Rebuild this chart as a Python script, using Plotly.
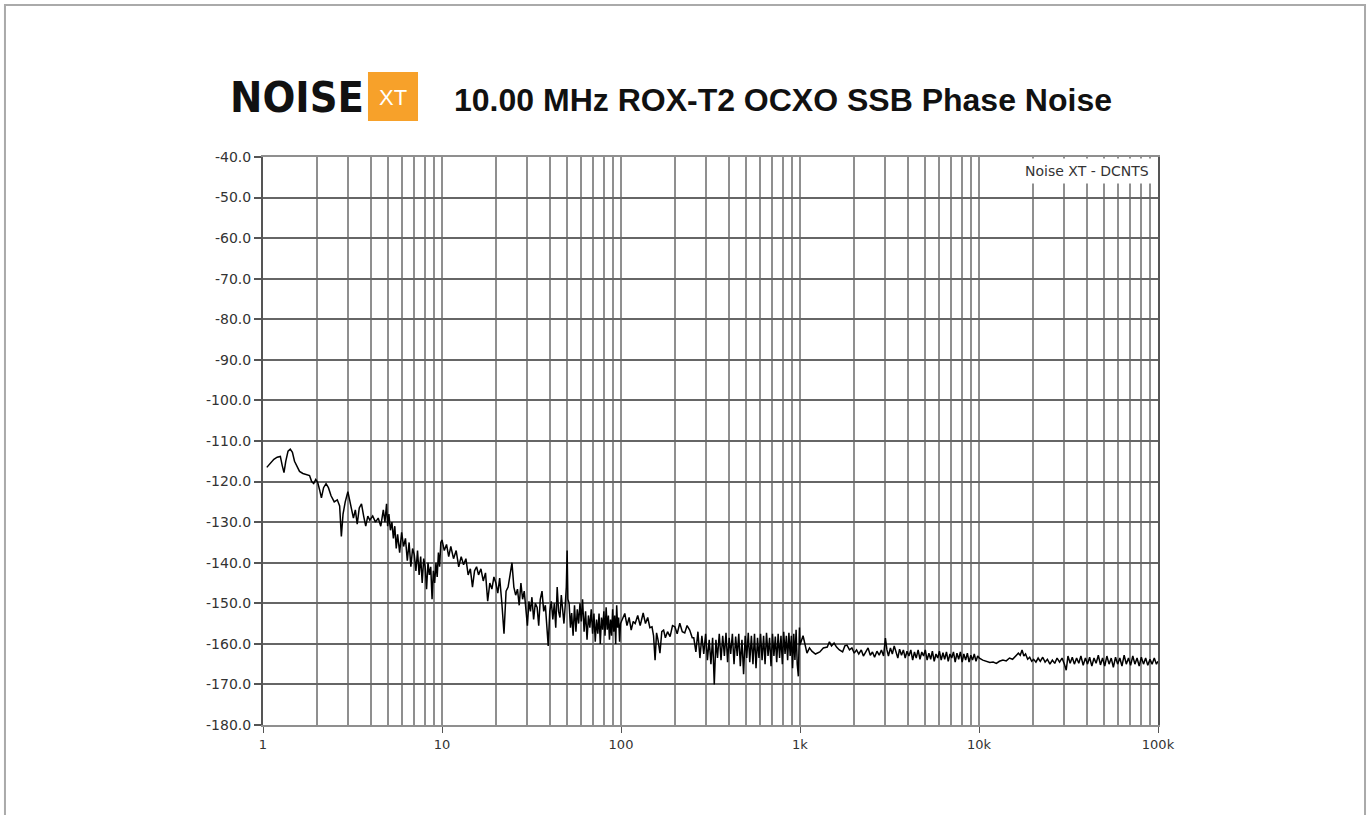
import plotly.graph_objects as go

# ---- data: (offset frequency in Hz, SSB phase noise in dBc/Hz) ----
seg_1_10 = [
    (1.05, -116.5), (1.1, -115.5), (1.15, -114.5), (1.2, -114), (1.25, -113.8), (1.28, -116),
    (1.31, -117.8), (1.34, -115), (1.38, -112.5), (1.42, -112), (1.46, -112.8), (1.5, -115),
    (1.55, -116.5), (1.6, -117.5), (1.67, -118), (1.75, -118.3), (1.82, -118.5), (1.87, -120),
    (1.92, -120.5), (1.97, -119.5), (2.02, -120.2), (2.07, -122), (2.12, -124), (2.18, -121.5),
    (2.25, -120.5), (2.32, -121.5), (2.4, -123.5), (2.5, -125), (2.6, -124.5), (2.68, -126),
    (2.74, -133.5), (2.8, -128), (2.88, -125), (2.98, -122.5), (3.05, -124.5), (3.12, -127),
    (3.2, -129), (3.28, -127), (3.36, -130.5), (3.45, -126.5), (3.55, -125.5), (3.65, -128.5),
    (3.75, -131), (3.85, -128.5), (3.95, -129.5), (4.1, -128.5), (4.25, -130), (4.4, -129),
    (4.55, -131), (4.7, -127), (4.8, -130), (4.9, -125.5), (4.97, -131), (5.05, -128),
    (5.15, -132), (5.25, -130), (5.35, -134), (5.45, -131), (5.55, -136.5), (5.65, -133),
    (5.8, -137.5), (5.95, -132.5), (6.1, -136), (6.25, -134), (6.4, -139.5), (6.55, -135),
    (6.7, -141), (6.85, -136.5), (7.0, -138), (7.15, -142), (7.3, -137), (7.45, -143),
    (7.6, -138.5), (7.75, -145), (7.9, -139), (8.05, -141), (8.2, -146.5), (8.35, -140),
    (8.5, -143), (8.65, -141), (8.8, -149), (8.95, -142), (9.1, -145), (9.25, -140),
    (9.4, -143.5), (9.55, -137.5), (9.7, -141), (9.85, -135),
]

seg_10_100 = [
    (10, -134.4), (10.3, -137), (10.6, -135.5), (10.9, -138.5), (11.2, -136), (11.6, -139),
    (12.0, -137), (12.4, -141), (12.8, -138.5), (13.2, -140.5), (13.6, -139), (14.0, -143),
    (14.4, -141.5), (14.8, -146), (15.2, -142), (15.6, -141), (16.0, -143), (16.5, -141.5),
    (17.0, -144.5), (17.5, -142.5), (18.0, -149.5), (18.5, -145), (19.0, -146.5), (19.5, -143.5),
    (20.0, -145), (20.5, -147.5), (21.0, -143.8), (21.6, -150), (22.2, -157.5), (22.8, -147),
    (23.4, -146), (24.0, -143), (24.6, -140), (25.2, -146), (25.8, -148), (26.4, -146.5),
    (27.0, -150.5), (27.6, -145), (28.2, -149), (28.8, -147), (29.4, -152), (30.0, -155.5),
    (30.6, -149.5), (31.2, -152), (31.8, -148.5), (32.5, -154), (33.2, -150), (34.0, -151),
    (34.7, -155.5), (35.4, -149), (36.2, -147), (37.0, -152), (37.8, -150.5), (38.5, -156),
    (39.2, -160.5), (40.0, -152), (40.8, -149.5), (41.6, -154), (42.4, -150), (43.2, -156),
    (44.0, -146), (44.8, -152), (45.6, -153.5), (46.4, -148), (47.2, -151.5), (48.0, -155),
    (48.8, -150.5), (49.5, -146), (50.0, -137), (50.5, -149), (51.3, -150), (52.2, -156),
    (53.0, -152.4), (54.0, -158), (55.0, -150.5), (56.0, -157), (57.0, -151.5), (58.0, -155),
    (59.0, -150), (60.0, -154.5), (61.0, -149), (62.2, -157), (63.4, -152), (64.6, -159),
    (65.8, -153), (67.0, -156), (68.2, -151.5), (69.4, -157.5), (70.6, -152.5), (71.8, -159.5),
    (73.0, -154), (74.2, -157.5), (75.4, -152.5), (76.6, -160), (77.8, -153.5), (79.0, -156.5),
    (80.2, -152), (81.4, -158), (82.6, -151), (83.8, -156.5), (85.0, -153), (86.2, -159),
    (87.4, -154), (88.6, -158), (89.8, -151.5), (91.0, -157), (92.2, -153), (93.4, -160),
    (94.6, -150.5), (95.8, -156), (97.0, -153.5), (98.2, -159.5), (99.4, -155),
]

seg_100_1k = [
    (102, -154), (105, -152.5), (108, -155.5), (111, -153.5), (114, -156.6), (117, -154.5),
    (120, -155), (124, -153), (128, -155.5), (133, -152.4), (137, -155), (141, -153.5),
    (145, -156), (149, -155.8), (152, -158), (155, -164), (158, -157.3), (161, -159),
    (165, -162.3), (169, -157), (173, -156.6), (177, -158.5), (182, -157), (188, -158.2),
    (194, -155.5), (200, -155.8), (206, -157.5), (213, -154.9), (220, -157), (227, -157.3),
    (234, -155.5), (242, -156.6), (250, -158.5), (255, -158.5), (262, -162), (269, -157),
    (276, -163.5), (283, -158), (290, -162.5), (297, -157.5), (304, -164), (311, -159),
    (318, -165), (325, -158.5), (332, -170), (339, -159), (346, -163.5), (354, -157.5),
    (362, -164), (370, -158), (378, -163), (386, -157.3), (394, -164.5), (402, -158.5),
    (410, -162.5), (419, -157.5), (428, -165), (437, -158.2), (446, -163), (455, -157.5),
    (464, -165.5), (474, -159), (484, -167.5), (494, -158), (504, -163.5), (514, -157.3),
    (524, -164.5), (535, -158), (546, -165), (557, -157.5), (568, -166), (579, -158.5),
    (590, -163.5), (602, -157.5), (614, -164), (626, -158), (638, -165), (650, -157.3),
    (663, -163), (676, -158.5), (689, -165.5), (702, -157.5), (715, -163), (728, -158.2),
    (741, -164.5), (755, -157.5), (769, -163.5), (783, -158), (797, -165), (811, -157),
    (825, -162.5), (839, -158), (853, -164), (867, -157.3), (881, -163), (895, -158),
    (909, -166), (923, -157.5), (937, -164), (951, -156.5), (965, -165), (979, -168),
    (993, -156),
]

seg_1k_10k = [
    (1000, -160.3), (1040, -158), (1070, -161), (1094, -162.3), (1130, -161), (1165, -161.8),
    (1220, -162.5), (1290, -162), (1350, -161), (1420, -160.8), (1460, -159.5), (1500, -160.5),
    (1550, -159.8), (1600, -160.8), (1660, -161.5), (1730, -162), (1780, -160.5), (1830, -160.3),
    (1890, -161.5), (1950, -161), (2010, -162.3), (2070, -161.5), (2130, -162.5), (2200, -161.5),
    (2260, -163), (2330, -162), (2400, -161), (2470, -162.8), (2540, -162), (2610, -163.3),
    (2690, -161.8), (2770, -162.8), (2850, -161.5), (2930, -163), (3000, -158.6), (3060, -161.5),
    (3120, -163), (3200, -161), (3280, -162.5), (3360, -160.5), (3440, -162), (3520, -163.5),
    (3600, -161.3), (3690, -162.8), (3780, -161.5), (3870, -163.5), (3960, -161.8), (4060, -163),
    (4160, -161.5), (4260, -164), (4360, -162), (4460, -163.5), (4570, -161.5), (4680, -163.8),
    (4790, -162), (4900, -163), (5010, -161.5), (5130, -164), (5250, -162.3), (5370, -163.8),
    (5490, -161.8), (5620, -164.3), (5750, -162.5), (5880, -163.5), (6010, -161.8), (6150, -164),
    (6290, -162.2), (6430, -163.8), (6580, -162), (6730, -164.3), (6880, -162.5), (7040, -163.5),
    (7200, -162), (7360, -164.5), (7530, -162.3), (7700, -163.8), (7870, -162), (8050, -164.5),
    (8230, -162.5), (8420, -164), (8610, -162.3), (8800, -164.5), (9000, -162.8), (9200, -164),
    (9410, -162.5), (9620, -164.3), (9830, -163),
]

seg_10k_100k = [
    (10050, -163.5), (10500, -164), (11000, -164.3), (11500, -164.6), (12000, -164.5),
    (12500, -164.8), (13000, -164.3), (13600, -164), (14200, -164.2), (14800, -163.5),
    (15400, -163.8), (16000, -163), (16600, -162.3), (17000, -162.8), (17400, -161.5),
    (17800, -163), (18200, -162.5), (18700, -163.8), (19200, -163.3), (19700, -164.3),
    (20200, -163.8), (20800, -164.5), (21400, -163.5), (22000, -164.3), (22700, -163.3),
    (23400, -164.5), (24100, -163.8), (24900, -165), (25700, -164), (26500, -164.8),
    (27300, -163.5), (28200, -164.5), (29100, -163.5), (30000, -165), (30700, -166.5),
    (31400, -163), (32300, -164.8), (33200, -163.3), (34100, -165), (35100, -163.5),
    (36100, -164.8), (37100, -163), (38200, -165.3), (39300, -163.5), (40400, -165),
    (41500, -163.3), (42700, -165.5), (43900, -163.5), (45100, -164.8), (46400, -162.8),
    (47700, -165.2), (49000, -163.5), (50400, -165.5), (51800, -163), (53300, -165),
    (54800, -163.5), (56300, -165.8), (57900, -163.3), (59500, -165), (61200, -163.5),
    (62900, -165.5), (64700, -162.8), (66500, -165), (68400, -163.5), (70300, -165.3),
    (72300, -163), (74300, -165), (76400, -163.5), (78500, -165.5), (80700, -163.3),
    (83000, -165), (85300, -163.5), (87700, -165.3), (90200, -163.8), (92700, -165),
    (95300, -163.5), (98000, -165), (100000, -164.3),
]

x_major = [1, 10, 100, 1000, 10000, 100000]
x_major_text = ["1", "10", "100", "1k", "10k", "100k"]
x_minor = [m * d for d in [1, 10, 100, 1000, 10000] for m in range(2, 10)]
y_ticks = list(range(-180, -39, 10))
y_tick_text = ["%.1f" % v for v in y_ticks]

title_text = "10.00 MHz ROX-T2 OCXO SSB Phase Noise"
source_text = "Noise XT - DCNTS"
logo_word = "NOISE"
logo_badge = "XT"

all_points = seg_1_10 + seg_10_100 + seg_100_1k + seg_1k_10k + seg_10k_100k
freq = [p[0] for p in all_points]
pn = [p[1] for p in all_points]

fig = go.Figure()
fig.add_trace(go.Scatter(x=freq, y=pn, mode="lines",
                         line=dict(color="black", width=1.5), showlegend=False,
                         hoverinfo="x+y"))

x_font = dict(family="DejaVu Sans, Verdana, sans-serif", size=13, color="#333333")
y_font = dict(family="DejaVu Sans, Verdana, sans-serif", size=14, color="#333333")

fig.update_xaxes(type="log", range=[0, 5], tickvals=x_major, ticktext=x_major_text,
                 ticks="outside", ticklen=6, tickwidth=1, tickcolor="#555555",
                 showgrid=True, gridcolor="#8f8f8f", gridwidth=2,
                 minor=dict(tickvals=x_minor, showgrid=True, gridcolor="#8f8f8f",
                            gridwidth=2, ticks=""),
                 showline=True, linecolor="#8f8f8f", linewidth=2, mirror=True,
                 zeroline=False, tickfont=x_font)
fig.update_yaxes(range=[-180, -40], tickvals=y_ticks, ticktext=y_tick_text,
                 ticks="outside", ticklen=7, tickwidth=2, tickcolor="#555555",
                 showgrid=True, gridcolor="#666666", gridwidth=2,
                 showline=True, linecolor="#555555", linewidth=2, mirror=True,
                 zeroline=False, tickfont=y_font)

annotations = [
    dict(text="<b>" + title_text + "</b>", x=0.581, y=1.1004, xref="paper", yref="paper",
         xanchor="center", yanchor="middle", showarrow=False,
         font=dict(family="Liberation Sans, Arial, sans-serif", size=32, color="#111111")),
    dict(text="<b>" + logo_word + "</b>", x=0.038, y=1.1056, xref="paper", yref="paper",
         xanchor="center", yanchor="middle", showarrow=False,
         font=dict(family="DejaVu Sans Condensed, Liberation Sans Narrow, sans-serif",
                   size=43, color="#111111")),
    dict(text=logo_badge, x=0.1453, y=1.1056, xref="paper", yref="paper",
         xanchor="center", yanchor="middle", showarrow=False,
         font=dict(family="Liberation Sans, Arial, sans-serif", size=22, color="white")),
    dict(text=source_text, x=0.9955, y=0.9988, xref="paper", yref="paper",
         xanchor="right", yanchor="top", showarrow=False,
         bgcolor="white", borderpad=4,
         font=dict(family="DejaVu Sans, Verdana, sans-serif", size=14, color="#333333")),
]

shapes = [
    dict(type="rect", xref="paper", yref="paper", x0=0.1173, x1=0.1732, y0=1.0634, y1=1.1496,
         fillcolor="#F7A12A", line=dict(width=0), layer="below"),
    dict(type="rect", xref="paper", yref="paper", x0=-0.2883, x1=1.2313, y0=-0.1673, y1=1.2676,
         fillcolor="rgba(0,0,0,0)", line=dict(color="#aaaaaa", width=2)),
]

fig.update_layout(width=1371, height=815, autosize=False,
                  margin=dict(l=263, r=213, t=157, b=90),
                  paper_bgcolor="white", plot_bgcolor="white",
                  annotations=annotations, shapes=shapes, showlegend=False)

fig.write_html("out.html", config={"displayModeBar": False},
               post_script="document.body.style.margin='0px';document.body.style.overflow='hidden';")
